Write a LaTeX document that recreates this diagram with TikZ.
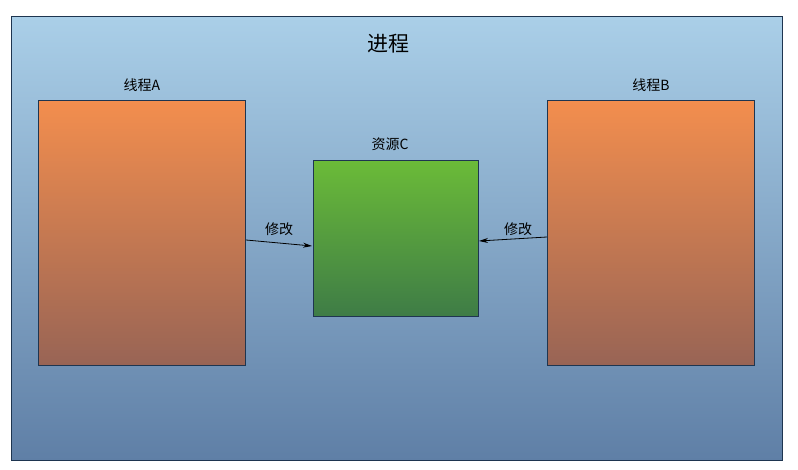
\documentclass[tikz,border=0pt]{standalone}
\usepackage{fontspec}
\setmainfont{Noto Sans CJK SC}
\usetikzlibrary{arrows.meta}
\definecolor{bgtop}{HTML}{AACFE8}
\definecolor{bgbot}{HTML}{5F7FA6}
\definecolor{ortop}{HTML}{F38E4E}
\definecolor{orbot}{HTML}{986455}
\definecolor{grtop}{HTML}{6BBB38}
\definecolor{grbot}{HTML}{3E7C46}
\definecolor{edge}{HTML}{1E3550}
\begin{document}
\begin{tikzpicture}[x=1pt,y=-1pt,
  box/.style={draw=edge,line width=0.8pt},
  lbl/.style={font=\fontsize{14}{16}\selectfont,text=black,inner sep=1pt},
  arr/.style={-{Stealth[length=9pt,width=5pt]},line width=0.8pt,draw=black}]
\useasboundingbox (0,0) rectangle (798,470);
\fill[white] (0,0) rectangle (798,470);
\node[box,top color=bgtop,bottom color=bgbot,minimum width=771pt,minimum height=444pt,anchor=north west,inner sep=0pt] (proc) at (11,16) {};
\node[box,top color=ortop,bottom color=orbot,minimum width=207pt,minimum height=265pt,anchor=north west,inner sep=0pt] (ta) at (38,100) {};
\node[box,top color=ortop,bottom color=orbot,minimum width=207pt,minimum height=265pt,anchor=north west,inner sep=0pt] (tb) at (547,100) {};
\node[box,top color=grtop,bottom color=grbot,minimum width=165pt,minimum height=156pt,anchor=north west,inner sep=0pt] (rc) at (313,160) {};
\node[font=\fontsize{21}{24}\selectfont] (ptitle) at (388,44) {进程};
\node[lbl] (la) at (142,85) {线程A};
\node[lbl] (lb) at (651,85) {线程B};
\node[lbl] (lc) at (390,144) {资源C};
\coordinate (a1) at (246,240);
\coordinate (a2) at (312,246);
\coordinate (b1) at (547,237);
\coordinate (b2) at (479,241);
\draw[arr] (a1) -- (a2);
\draw[arr] (b1) -- (b2);
\node[lbl] (ma) at (279,229) {修改};
\node[lbl] (mb) at (518,229) {修改};
\end{tikzpicture}
\end{document}
